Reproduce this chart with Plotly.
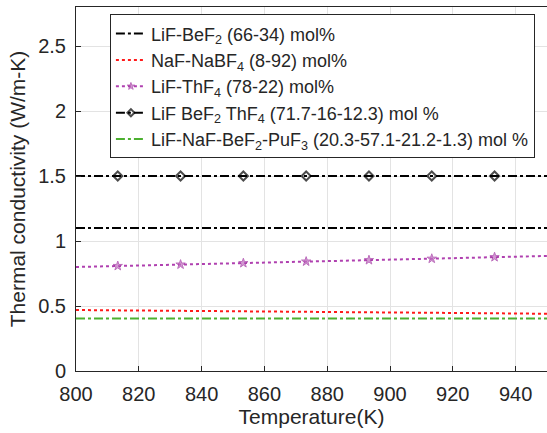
import plotly.graph_objects as go

# Data
T = [800, 813.3, 833.3, 853.3, 873.3, 893.3, 913.3, 933.3, 950]
lif_bef2 = [1.10] * 9
naf_nabf4 = [0.469, 0.467, 0.464, 0.460, 0.456, 0.452, 0.448, 0.444, 0.440]
lif_thf4 = [0.800, 0.808, 0.819, 0.830, 0.842, 0.853, 0.864, 0.876, 0.885]
flibe_th = [1.50] * 9
pu_salt = [0.403] * 9

names = [
    "LiF-BeF<sub>2</sub> (66-34) mol%",
    "NaF-NaBF<sub>4</sub> (8-92) mol%",
    "LiF-ThF<sub>4</sub> (78-22) mol%",
    "LiF BeF<sub>2</sub> ThF<sub>4</sub> (71.7-16-12.3) mol %",
    "LiF-NaF-BeF<sub>2</sub>-PuF<sub>3</sub> (20.3-57.1-21.2-1.3) mol %",
]

msz = [0, 7, 7, 7, 7, 7, 7, 7, 0]

fig = go.Figure()
fig.add_trace(go.Scatter(x=T, y=lif_bef2, mode="lines", name=names[0],
                         line=dict(color="black", dash="dashdot", width=2)))
fig.add_trace(go.Scatter(x=T, y=naf_nabf4, mode="lines", name=names[1],
                         line=dict(color="#ff1a1a", dash="dot", width=2)))
fig.add_trace(go.Scatter(x=T, y=lif_thf4, mode="lines+markers", name=names[2],
                         line=dict(color="#b040b0", dash="dot", width=2),
                         marker=dict(symbol="star", size=msz,
                                     color="#c070c0", line=dict(color="#a030a0", width=1))))
fig.add_trace(go.Scatter(x=T, y=flibe_th, mode="lines+markers", name=names[3],
                         line=dict(color="black", dash="dashdot", width=2),
                         marker=dict(symbol="diamond-open", size=msz, color="black",
                                     line=dict(color="black", width=2))))
fig.add_trace(go.Scatter(x=T, y=pu_salt, mode="lines", name=names[4],
                         line=dict(color="#4cb030", dash="dashdot", width=2)))

axis_common = dict(
    showgrid=True, gridcolor="#e3e3e3", gridwidth=1,
    showline=True, linecolor="#262626", linewidth=1, mirror=True,
    ticks="inside", ticklen=5, tickcolor="#262626",
    tickfont=dict(family="Liberation Sans, Arial", size=20, color="#262626"),
    zeroline=False,
)

fig.update_layout(
    width=547, height=433,
    margin=dict(l=76, r=0, t=7, b=62, autoexpand=False),
    paper_bgcolor="white", plot_bgcolor="white",
    font=dict(family="Liberation Sans, Arial", color="#262626"),
    xaxis=dict(range=[800, 950], tickvals=[800, 820, 840, 860, 880, 900, 920, 940],
               ticklabelstandoff=5,
               title=dict(text="Temperature(K)", font=dict(size=21), standoff=2),
               **axis_common),
    yaxis=dict(range=[0, 2.8], tickvals=[0, 0.5, 1, 1.5, 2, 2.5],
               ticktext=["0", "0.5", "1", "1.5", "2", "2.5"],
               ticklabelstandoff=5,
               title=dict(text="Thermal conductivity (W/m-K)", font=dict(size=21), standoff=6),
               **axis_common),
    legend=dict(x=0.072, y=0.98, xanchor="left", yanchor="top",
                bgcolor="white", bordercolor="#262626", borderwidth=1,
                font=dict(family="Liberation Sans, Arial", size=18, color="#262626"),
                itemwidth=30, tracegroupgap=0),
    showlegend=True,
)

fig.write_html("out.html")
